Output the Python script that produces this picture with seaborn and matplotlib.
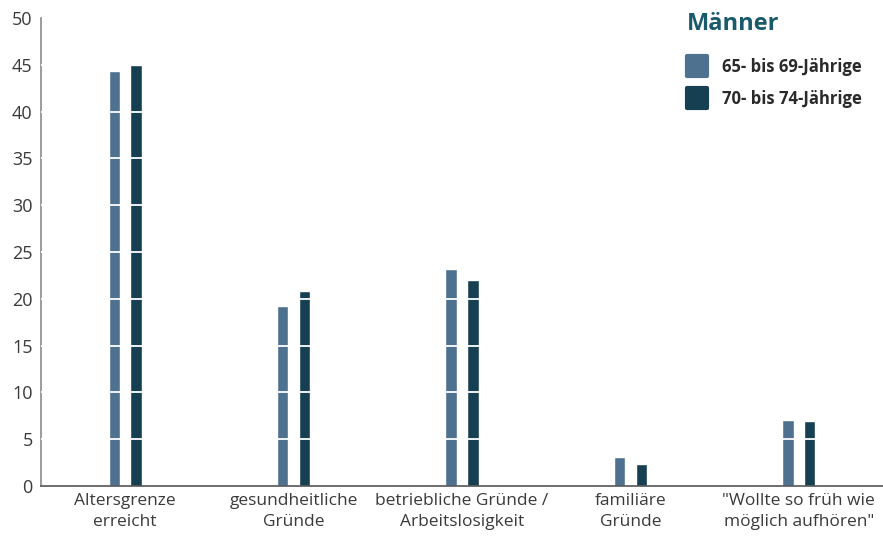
import matplotlib
matplotlib.use("Agg")
import matplotlib.pyplot as plt
from matplotlib.lines import Line2D
from matplotlib.markers import MarkerStyle
import seaborn as sns
import pandas as pd

categories = ["Altersgrenze\nerreicht", "gesundheitliche\nGründe", "betriebliche Gründe /\nArbeitslosigkeit",
              "familiäre\nGründe", "\"Wollte so früh wie\nmöglich aufhören\""]
series_names = ["65- bis 69-Jährige", "70- bis 74-Jährige"]
vals_65_69 = [44.3, 19.2, 23.2, 3.1, 7.05]
vals_70_74 = [45.0, 20.8, 22.0, 2.35, 6.9]
colors = ["#4f7190", "#173f52"]
yticks = [0, 5, 10, 15, 20, 25, 30, 35, 40, 45, 50]

df = pd.DataFrame({
    "cat": categories * 2,
    "grp": [series_names[0]] * 5 + [series_names[1]] * 5,
    "val": vals_65_69 + vals_70_74,
})

sns.set_theme(style="white")
plt.rcParams["font.family"] = ["Open Sans", "DejaVu Sans"]

fig = plt.figure(figsize=(8.83, 5.37), dpi=100)
ax = fig.add_axes([41 / 883, 1 - 486 / 537, 1 - 41 / 883, (486 - 18) / 537])

sns.barplot(data=df, x="cat", y="val", hue="grp", order=categories, hue_order=series_names,
            palette=colors, width=0.26, gap=0.48, saturation=1, ax=ax, legend=False, zorder=2)

ax.set_ylim(0, 50)
ax.set_xlim(-0.5, 4.5)
ax.set_yticks(yticks)
ax.set_yticklabels([str(t) for t in yticks], fontsize=13, color="#3a3a3a")
ax.tick_params(axis="x", labelsize=12.5, colors="#3a3a3a", length=0, pad=5)
ax.tick_params(axis="y", length=0, pad=6)
for lab in ax.get_xticklabels():
    lab.set_color("#3a3a3a")
    lab.set_linespacing(1.4)
ax.set_xlabel("")
ax.set_ylabel("")
for t in yticks[1:-1]:
    ax.axhline(t, color="white", lw=1.3, zorder=3)

for s in ["top", "right"]:
    ax.spines[s].set_visible(False)
ax.spines["left"].set_color("#8a8a8a")
ax.spines["left"].set_linewidth(1.2)
ax.spines["bottom"].set_color("#555555")
ax.spines["bottom"].set_linewidth(1.2)

ms = MarkerStyle("s", joinstyle="round")
handles = [Line2D([], [], ls="", marker=ms, markersize=14, markerfacecolor=c,
                  markeredgecolor=c, markeredgewidth=3) for c in colors]
leg = fig.legend(handles, series_names, loc="upper left", bbox_to_anchor=(672 / 883, 1 + 3 / 537),
                 frameon=False, title="Männer", alignment="left", handlelength=1.2,
                 handletextpad=0.9, labelspacing=0.8,
                 prop={"size": 12, "weight": "bold"})
leg.get_title().set_fontsize(17)
leg.get_title().set_fontweight("bold")
leg.get_title().set_color("#1b5a6b")
leg._legend_box.sep = 16
for t in leg.get_texts():
    t.set_color("#2a2a2a")

fig.savefig("out.png", dpi=100)
